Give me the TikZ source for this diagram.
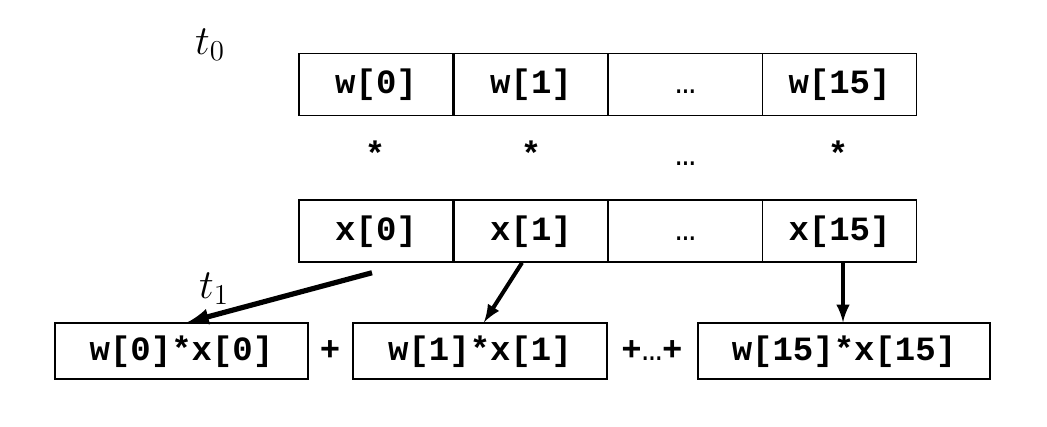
\documentclass[tikz,border=0pt]{standalone}
\usepackage{fontspec}
\setmonofont{Liberation Mono}
\usepackage{tikz}
\tikzset{>=latex}

\begin{document}
\begin{tikzpicture}[x=.5pt, y=-.5pt,
    cell/.style={draw, line width=.75pt, minimum width=77pt, minimum height=31pt, inner sep=0pt, text height=12pt, text depth=3pt, font=\fontsize{17}{20}\ttfamily\bfseries},
    prod/.style={cell, minimum height=28pt},
    sym/.style={anchor=base, inner sep=0pt, font=\fontsize{17}{20}\ttfamily\bfseries}]
    \useasboundingbox(0, 0)rectangle(1047, 427);
    \node[font=\fontsize{20}{24}\selectfont](t0)at(210, 45){$t_0$};
    \node[font=\fontsize{20}{24}\selectfont](t1)at(214, 289){$t_1$};
    % w row
    \node[cell](w0)at(376, 84.5){w[0]};
    \node[cell](w1)at(531, 84.5){w[1]};
    \node[cell](wd)at(685.5, 84.5){\mdseries …};
    \node[cell](w15)at(839.5, 84.5){w[15]};
    % products
    \node[sym](s0)at(375, 166){*};
    \node[sym](s1)at(531, 166){*};
    \node[sym](sd)at(685.5, 166){\mdseries …};
    \node[sym](s15)at(838, 166){*};
    % x row
    \node[cell](x0)at(376, 231){x[0]};
    \node[cell](x1)at(531, 231){x[1]};
    \node[cell](xd)at(685.5, 231){\mdseries …};
    \node[cell](x15)at(839.5, 231){x[15]};
    % sum
    \node[prod, minimum width=126.5pt](p0)at(181.5, 351){w[0]*x[0]};
    \node[prod, minimum width=127pt](p1)at(480, 351){w[1]*x[1]};
    \node[prod, minimum width=146pt](p15)at(844, 351){w[15]*x[15]};
    \node[sym](a0)at(330, 360){+};
    \node[sym](a1)at(652, 360){+\mdseries …\bfseries+};
    \draw[->, line width=2.6pt]([shift={(-2pt, -5pt)}]x0.south)--([xshift=3pt]p0.north);
    \draw[->, line width=2pt]([xshift=-4.5pt]x1.south)--([xshift=2pt]p1.north);
    \draw[->, line width=2pt]([xshift=1.75pt]x15.south)--([xshift=-.5pt]p15.north);
\end{tikzpicture}
\end{document}
